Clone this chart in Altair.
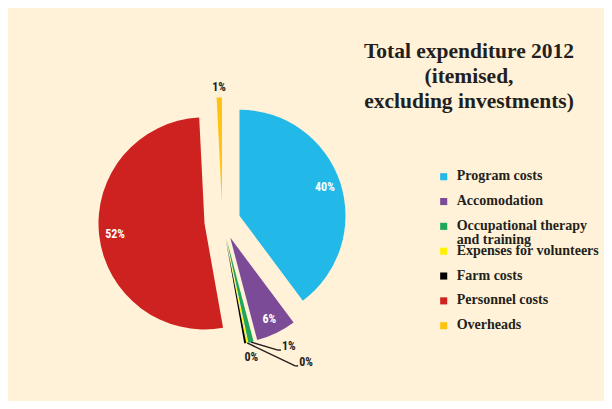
import altair as alt
import pandas as pd

# ---------------- data ----------------
categories = [
    "Program costs",
    "Accomodation",
    "Occupational therapy and training",
    "Expenses for volunteers",
    "Farm costs",
    "Personnel costs",
    "Overheads",
]
shares = [39.8, 6.1, 0.8, 0.2, 0.3, 52.0, 0.8]
legend_labels = [
    "Program costs",
    "Accomodation",
    "Occupational therapy\nand training",
    "Expenses for volunteers",
    "Farm costs",
    "Personnel costs",
    "Overheads",
]
title_lines = ["Total expenditure 2012", "(itemised,", "excluding investments)"]

# ---------------- styles ----------------
colors = ["#22B8E8", "#7B4B97", "#1FA65A", "#FFF200", "#000000", "#CD221F", "#FFC20E"]
BG = "#FFF2D8"
DARK = "#231F20"
W, H = 596, 393
CX, CY = 214.4, 213.4      # pie centre (px)
R = 106                    # pie radius
EXPLODE = 18               # explode distance
IN_R, OUT_R = 90, 116      # label radii
PCT_FONT = "Roboto Condensed, Liberation Sans Narrow, Liberation Sans, sans-serif"
PCT_SIZE = 12
SERIF = "Liberation Serif, DejaVu Serif, serif"

label_mode = {
    "Program costs": "inside",
    "Accomodation": "inside",
    "Occupational therapy and training": "leader",
    "Expenses for volunteers": "leader",
    "Farm costs": "below",
    "Personnel costs": "inside",
    "Overheads": "outside",
}
# leader geometry (elbow dx, elbow dy, tail length) relative to slice tip
leader_geom = {
    "Occupational therapy and training": (27, 8, 3),
    "Expenses for volunteers": (48, 23, 3),
    "Farm costs": (6, 14, 0),
}

df = pd.DataFrame({"category": categories, "value": shares})
df["order"] = range(len(df))
df["mode"] = df["category"].map(label_mode)
df["ldx"] = df["category"].map(lambda c: leader_geom.get(c, (0, 0, 0))[0])
df["ldy"] = df["category"].map(lambda c: leader_geom.get(c, (0, 0, 0))[1])
df["tail"] = df["category"].map(lambda c: leader_geom.get(c, (0, 0, 0))[2])

leg_df = pd.DataFrame({"category": categories, "label": legend_labels})
title_df = pd.DataFrame({"t": ["\n".join(title_lines)]})

color_scale = alt.Scale(domain=categories, range=colors)
theta_scale = alt.Scale(domain=[0, 100])

base = (
    alt.Chart(df)
    .transform_window(end="sum(value)", sort=[alt.SortField("order")], frame=[None, 0])
    .transform_calculate(
        start="datum.end - datum.value",
        mid="(datum.start + datum.end) / 2",
        ang="datum.mid / 100 * 2 * PI",
        ex=f"{CX} + {EXPLODE} * sin(datum.ang)",
        ey=f"{CY} - {EXPLODE} * cos(datum.ang)",
        tipx=f"datum.ex + {R} * sin(datum.ang)",
        tipy=f"datum.ey - {R} * cos(datum.ang)",
        elbx="datum.tipx + datum.ldx",
        elby="datum.tipy + datum.ldy",
        endx="datum.elbx + datum.tail",
        label="format(datum.value, '.0f') + '%'",
    )
)

X = lambda f: alt.X(f, type="quantitative", scale=None, axis=None)
Y = lambda f: alt.Y(f, type="quantitative", scale=None, axis=None)

arcs = base.mark_arc(outerRadius=R).encode(
    theta=alt.Theta("start:Q", stack=None, scale=theta_scale),
    theta2="end:Q",
    x=X("ex"),
    y=Y("ey"),
    color=alt.Color("category:N", scale=color_scale, legend=None),
)

inside = base.transform_filter("datum.mode == 'inside'").mark_text(
    radius=IN_R, color="white", font=PCT_FONT, fontSize=PCT_SIZE, fontWeight="bold"
).encode(
    theta=alt.Theta("mid:Q", stack=None, scale=theta_scale),
    x=X("ex"), y=Y("ey"), text="label:N",
)

outside = base.transform_filter("datum.mode == 'outside'").mark_text(
    radius=OUT_R, color=DARK, font=PCT_FONT, fontSize=PCT_SIZE, fontWeight="bold"
).encode(
    theta=alt.Theta("mid:Q", stack=None, scale=theta_scale),
    x=X("ex"), y=Y("ey"), text="label:N",
)

leaders = base.transform_filter("datum.mode == 'leader'")
diag = leaders.mark_rule(color=DARK, strokeWidth=1.4).encode(
    x=X("tipx"), y=Y("tipy"), x2="elbx:Q", y2="elby:Q"
)
tail = leaders.mark_rule(color=DARK, strokeWidth=1.4).encode(
    x=X("elbx"), y=Y("elby"), x2="endx:Q"
)
leader_text = leaders.mark_text(
    align="left", baseline="alphabetic", dx=1, color=DARK,
    font=PCT_FONT, fontSize=PCT_SIZE, fontWeight="bold",
).encode(x=X("endx"), y=Y("elby"), text="label:N")

below = base.transform_filter("datum.mode == 'below'").mark_text(
    align="center", baseline="middle", color=DARK,
    font=PCT_FONT, fontSize=PCT_SIZE, fontWeight="bold",
).encode(x=X("elbx"), y=Y("elby"), text="label:N")

leg_y = alt.Y(
    "category:N", sort=categories, axis=None,
    scale=alt.Scale(type="point", range=[168.7, 317.7], padding=0),
)
leg_sq = alt.Chart(leg_df).mark_square(size=50, opacity=1).encode(
    x=alt.value(435.7), y=leg_y,
    color=alt.Color("category:N", scale=color_scale, legend=None),
)
leg_txt = alt.Chart(leg_df).mark_text(
    align="left", baseline="top", dy=-7.5, lineBreak="\n", lineHeight=13.7,
    font=SERIF, fontSize=14, fontWeight="bold", color=DARK,
).encode(x=alt.value(448.7), y=leg_y, text="label:N")

title = alt.Chart(title_df).mark_text(
    align="center", baseline="top", lineBreak="\n", lineHeight=25,
    font=SERIF, fontSize=21.5, fontWeight="bold", color=DARK,
).encode(x=alt.value(461), y=alt.value(32.5), text="t:N")

chart = (
    alt.layer(arcs, inside, outside, diag, tail, leader_text, below, leg_sq, leg_txt, title)
    .resolve_scale(x="independent", y="independent")
    .properties(
        width=W, height=H, padding=0, background=BG,
        autosize=alt.AutoSizeParams(type="fit", contains="padding"),
    )
    .configure_view(stroke=None)
)

chart.save("out.html", embed_options={"renderer": "svg", "actions": False})
